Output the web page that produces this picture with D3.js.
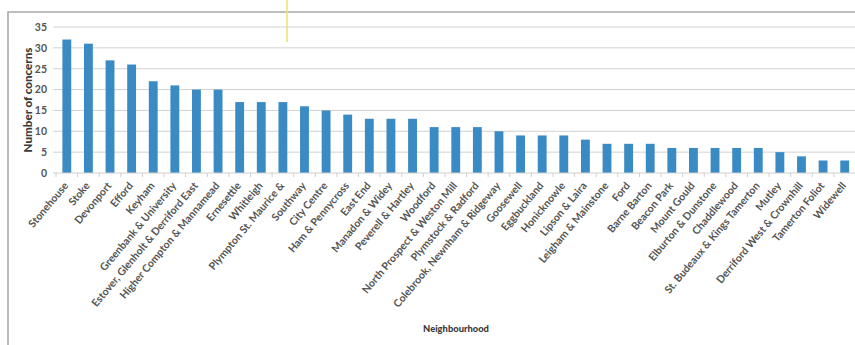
<!DOCTYPE html>
<html>
<head>
<meta charset="utf-8">
<script src="https://cdn.jsdelivr.net/npm/d3@7/dist/d3.min.js"></script>
<style>
  html, body { margin: 0; padding: 0; background: #fff; }
  svg { display: block; }
</style>
</head>
<body>
<svg id="chart" width="855" height="345"></svg>
<script>
// Concerns recorded per neighbourhood
const neighbourhoods = [
  "Stonehouse", "Stoke", "Devonport", "Efford", "Keyham",
  "Greenbank & University", "Estover, Glenholt & Derriford East",
  "Higher Compton & Mannamead", "Ernesettle", "Whitleigh",
  "Plympton St. Maurice &", "Southway", "City Centre", "Ham & Pennycross",
  "East End", "Manadon & Widey", "Peverell & Hartley", "Woodford",
  "North Prospect & Weston Mill", "Plymstock & Radford",
  "Colebrook, Newnham & Ridgeway", "Goosewell", "Eggbuckland",
  "Honicknowle", "Lipson & Laira", "Leigham & Mainstone", "Ford",
  "Barne Barton", "Beacon Park", "Mount Gould", "Elburton & Dunstone",
  "Chaddlewood", "St. Budeaux & Kings Tamerton", "Mutley",
  "Derriford West & Crownhill", "Tamerton Foliot", "Widewell"
];
const concerns = [
  32, 31, 27, 26, 22, 21, 20, 20, 17, 17,
  17, 16, 15, 14, 13, 13, 13, 11, 11, 11,
  10, 9, 9, 9, 8, 7, 7, 7, 6, 6,
  6, 6, 6, 5, 4, 3, 3
];
const yTicks = [0, 5, 10, 15, 20, 25, 30, 35];

const svg = d3.select("#chart");
const fontFamily = "Lato, 'Open Sans', 'DejaVu Sans', sans-serif";

// scale a text selection's font so its widest member spans `width` px
function fitWidth(sel, width) {
  const widest = d3.max(sel.nodes(), n => n.getComputedTextLength());
  const size = parseFloat(sel.attr("font-size"));
  sel.attr("font-size", size * width / widest);
}

// chart frame
svg.append("path")
  .attr("d", "M8,345 L8,12 L855,12")
  .attr("fill", "none")
  .attr("stroke", "#a9a9a9")
  .attr("stroke-width", 1.6);

// highlighter stroke near the top edge
svg.append("line")
  .attr("x1", 287).attr("x2", 287)
  .attr("y1", 0).attr("y2", 42)
  .attr("stroke", "#eee27a")
  .attr("stroke-width", 1.6);

const plot = { left: 56, right: 855.5, top: 27, bottom: 173 };

const x = d3.scaleBand()
  .domain(neighbourhoods)
  .range([plot.left, plot.right])
  .paddingInner(0.59)
  .paddingOuter(0.295);

const y = d3.scaleLinear()
  .domain([0, 35])
  .range([plot.bottom, plot.top]);

// horizontal gridlines
svg.append("g")
  .selectAll("line")
  .data(yTicks.filter(d => d > 0))
  .join("line")
  .attr("x1", plot.left - 3).attr("x2", 855)
  .attr("y1", d => y(d)).attr("y2", d => y(d))
  .attr("stroke", "#d2d2d2")
  .attr("stroke-width", 1);

// y axis labels
const yAxis = svg.append("g")
  .attr("transform", `translate(${plot.left - 7},0)`)
  .call(d3.axisLeft(y).tickValues(yTicks).tickSize(0).tickPadding(2));
yAxis.select(".domain").remove();
yAxis.selectAll("text")
  .attr("font-family", fontFamily)
  .attr("font-size", 10.5)
  .attr("font-weight", 700)
  .attr("fill", "#555");

// bars
svg.append("g")
  .selectAll("rect")
  .data(neighbourhoods.map((n, i) => ({ n, v: concerns[i] })))
  .join("rect")
  .attr("x", d => x(d.n))
  .attr("width", x.bandwidth())
  .attr("y", d => y(d.v))
  .attr("height", d => y(0) - y(d.v))
  .attr("fill", "#3a8bc3");

// category axis line and tick marks between categories
svg.append("line")
  .attr("x1", plot.left - 3).attr("x2", 855)
  .attr("y1", y(0)).attr("y2", y(0))
  .attr("stroke", "#cfcfcf");
const step = x.step();
const boundaries = neighbourhoods.map(n => x(n) + x.bandwidth() / 2 - step / 2);
svg.append("g")
  .selectAll("line")
  .data(boundaries)
  .join("line")
  .attr("x1", d => d).attr("x2", d => d)
  .attr("y1", y(0)).attr("y2", y(0) + 4)
  .attr("stroke", "#cfcfcf");

// category labels
const labels = svg.append("g")
  .selectAll("text")
  .data(neighbourhoods)
  .join("text")
  .attr("transform", d => `translate(${x(d) + x.bandwidth() / 2 + 2},${y(0) + 13}) rotate(-50)`)
  .attr("text-anchor", "end")
  .attr("font-family", fontFamily)
  .attr("font-size", 10)
  .attr("font-weight", 700)
  .attr("fill", "#545454")
  .text(d => d);
fitWidth(labels, 160);

// axis titles
const yTitle = svg.append("text")
  .attr("transform", `translate(32,${(plot.top + plot.bottom) / 2}) rotate(-90)`)
  .attr("text-anchor", "middle")
  .attr("font-family", fontFamily)
  .attr("font-size", 10.5)
  .attr("font-weight", 900)
  .attr("fill", "#3a3a3a")
  .text("Number of concerns");
fitWidth(yTitle, 105);

const xTitle = svg.append("text")
  .attr("x", 456)
  .attr("y", 332)
  .attr("text-anchor", "middle")
  .attr("font-family", fontFamily)
  .attr("font-size", 9)
  .attr("font-weight", 900)
  .attr("fill", "#3a3a3a")
  .text("Neighbourhood");
fitWidth(xTitle, 66);
</script>
</body>
</html>
